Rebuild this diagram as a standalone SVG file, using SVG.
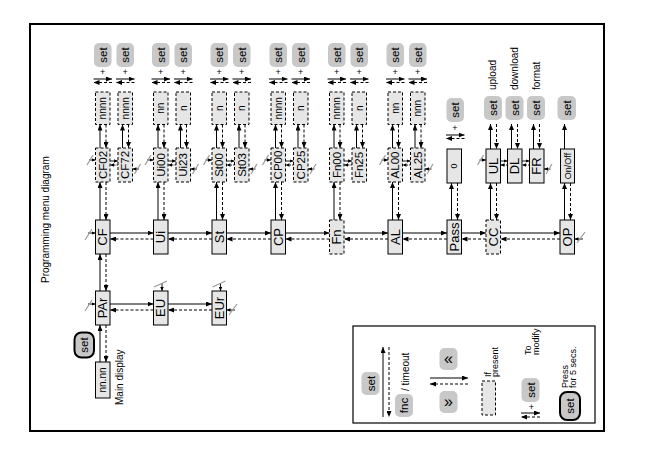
<svg xmlns="http://www.w3.org/2000/svg" width="658" height="464" viewBox="0 0 658 464">
<defs>
<marker id="ah" viewBox="0 0 6 5" refX="6" refY="2.5" markerWidth="6" markerHeight="5" markerUnits="userSpaceOnUse" orient="auto"><path d="M0,0L6,2.5L0,5z" fill="#000"/></marker>
<marker id="as" viewBox="0 0 4 3.5" refX="4" refY="1.75" markerWidth="4" markerHeight="3.5" markerUnits="userSpaceOnUse" orient="auto"><path d="M0,0L4,1.75L0,3.5z" fill="#000"/></marker>
</defs>
<style>
.tx{font-family:"Liberation Sans",Arial,sans-serif;text-anchor:middle;dominant-baseline:central;fill:#000}
.st{text-anchor:start}
.f13{font-size:13px}.f11{font-size:11.5px}.f10{font-size:10px}.f9{font-size:9px}
.b{fill:#e6e6e6;stroke:#000;stroke-width:1}
.bd{fill:#e6e6e6;stroke:#000;stroke-width:1;stroke-dasharray:3 2}
.btn{fill:#c8c8c8}
.btk{fill:#c8c8c8;stroke:#000;stroke-width:2}
.s{fill:none;stroke:#000;stroke-width:1;marker-end:url(#ah)}
.d{fill:none;stroke:#000;stroke-width:1;stroke-dasharray:3 2;marker-end:url(#ah)}
.ss{fill:none;stroke:#000;stroke-width:0.9;marker-end:url(#as)}
.ds{fill:none;stroke:#000;stroke-width:0.9;stroke-dasharray:1.5 1;marker-end:url(#as)}
.g{fill:none;stroke:#9a9a9a;stroke-width:1.2}
</style>
<rect x="30" y="24" width="574" height="407" fill="#fff" stroke="#000" stroke-width="2"/>
<text class="tx st f10" transform="translate(45,283) rotate(-90)">Programming menu diagram</text>

<!-- main chain -->
<g id="CF"><rect class="b" x="95.5" y="220" width="14.5" height="34"/><text class="tx f13" transform="translate(102.75,237) rotate(-90)">CF</text></g>
<g id="Ui"><rect class="b" x="153.5" y="220" width="14.5" height="34"/><text class="tx f13" transform="translate(160.75,237) rotate(-90)">Ui</text></g>
<g id="St"><rect class="b" x="212" y="220" width="14.5" height="34"/><text class="tx f13" transform="translate(219.25,237) rotate(-90)">St</text></g>
<g id="CP"><rect class="b" x="271" y="220" width="14.5" height="34"/><text class="tx f13" transform="translate(278.25,237) rotate(-90)">CP</text></g>
<g id="Fn"><rect class="bd" x="329.5" y="220" width="14.5" height="34"/><text class="tx f13" transform="translate(336.75,237) rotate(-90)">Fn</text></g>
<g id="AL"><rect class="b" x="388" y="220" width="14.5" height="34"/><text class="tx f13" transform="translate(395.25,237) rotate(-90)">AL</text></g>
<g id="Pass"><rect class="b" x="447" y="220" width="14.5" height="34"/><text class="tx f13" transform="translate(454.25,237) rotate(-90)">Pass</text></g>
<g id="CC"><rect class="bd" x="486" y="220" width="14.5" height="34"/><text class="tx f13" transform="translate(493.25,237) rotate(-90)">CC</text></g>
<g id="OP"><rect class="b" x="560" y="220" width="14.5" height="34"/><text class="tx f13" transform="translate(567.25,237) rotate(-90)">OP</text></g>

<g id="PAr"><rect class="b" x="95.5" y="291" width="14.5" height="34"/><text class="tx f13" transform="translate(102.75,308) rotate(-90)">PAr</text></g>
<g id="EU"><rect class="b" x="153.5" y="291" width="14.5" height="34"/><text class="tx f13" transform="translate(160.75,308) rotate(-90)">EU</text></g>
<g id="EUr"><rect class="b" x="212" y="291" width="14.5" height="34"/><text class="tx f13" transform="translate(219.25,308) rotate(-90)">EUr</text></g>
<g id="main-display"><rect class="b" x="95.5" y="362" width="14.5" height="36"/><text class="tx f10" transform="translate(102.75,380) rotate(-90)">nn.nn</text><text class="tx st f10" transform="translate(119,405) rotate(-90)">Main display</text></g>
<g id="set-main"><rect class="btk" x="74.5" y="332.5" width="19.5" height="25" rx="7"/><text class="tx f11" transform="translate(84.25,345) rotate(-90)">set</text></g>

<!-- parameter columns -->
<g id="CF02"><rect class="bd" x="95.5" y="148" width="14.5" height="34"/><text class="tx f11" transform="translate(102.75,165) rotate(-90)">CF02</text></g>
<g id="CF02-val"><rect class="bd" x="95.5" y="92" width="14.5" height="32.5"/><text class="tx f10" transform="translate(102.75,108.25) rotate(-90)">nnnn</text></g>
<g id="CF02-set"><rect class="btn" x="94" y="43" width="17.5" height="24" rx="5"/><text class="tx f11" transform="translate(102.75,55) rotate(-90)">set</text><text class="tx f9" x="102.75" y="72">+</text></g>
<g id="CF72"><rect class="bd" x="118" y="148" width="14.5" height="34"/><text class="tx f11" transform="translate(125.25,165) rotate(-90)">CF72</text></g>
<g id="CF72-val"><rect class="bd" x="118" y="92" width="14.5" height="32.5"/><text class="tx f10" transform="translate(125.25,108.25) rotate(-90)">nnnn</text></g>
<g id="CF72-set"><rect class="btn" x="116.5" y="43" width="17.5" height="24" rx="5"/><text class="tx f11" transform="translate(125.25,55) rotate(-90)">set</text><text class="tx f9" x="125.25" y="72">+</text></g>

<g id="Ui00"><rect class="bd" x="153.5" y="148" width="14.5" height="34"/><text class="tx f11" transform="translate(160.75,165) rotate(-90)">Ui00</text></g>
<g id="Ui00-val"><rect class="bd" x="153.5" y="92" width="14.5" height="32.5"/><text class="tx f10" transform="translate(160.75,108.25) rotate(-90)">nn</text></g>
<g id="Ui00-set"><rect class="btn" x="152" y="43" width="17.5" height="24" rx="5"/><text class="tx f11" transform="translate(160.75,55) rotate(-90)">set</text><text class="tx f9" x="160.75" y="72">+</text></g>
<g id="Ui23"><rect class="bd" x="176" y="148" width="14.5" height="34"/><text class="tx f11" transform="translate(183.25,165) rotate(-90)">Ui23</text></g>
<g id="Ui23-val"><rect class="bd" x="176" y="92" width="14.5" height="32.5"/><text class="tx f10" transform="translate(183.25,108.25) rotate(-90)">n</text></g>
<g id="Ui23-set"><rect class="btn" x="174.5" y="43" width="17.5" height="24" rx="5"/><text class="tx f11" transform="translate(183.25,55) rotate(-90)">set</text><text class="tx f9" x="183.25" y="72">+</text></g>

<g id="St00"><rect class="bd" x="212" y="148" width="14.5" height="34"/><text class="tx f11" transform="translate(219.25,165) rotate(-90)">St00</text></g>
<g id="St00-val"><rect class="bd" x="212" y="92" width="14.5" height="32.5"/><text class="tx f10" transform="translate(219.25,108.25) rotate(-90)">n</text></g>
<g id="St00-set"><rect class="btn" x="210.5" y="43" width="17.5" height="24" rx="5"/><text class="tx f11" transform="translate(219.25,55) rotate(-90)">set</text><text class="tx f9" x="219.25" y="72">+</text></g>
<g id="St03"><rect class="bd" x="234.5" y="148" width="14.5" height="34"/><text class="tx f11" transform="translate(241.75,165) rotate(-90)">St03</text></g>
<g id="St03-val"><rect class="bd" x="234.5" y="92" width="14.5" height="32.5"/><text class="tx f10" transform="translate(241.75,108.25) rotate(-90)">n</text></g>
<g id="St03-set"><rect class="btn" x="233" y="43" width="17.5" height="24" rx="5"/><text class="tx f11" transform="translate(241.75,55) rotate(-90)">set</text><text class="tx f9" x="241.75" y="72">+</text></g>

<g id="CP00"><rect class="bd" x="271" y="148" width="14.5" height="34"/><text class="tx f11" transform="translate(278.25,165) rotate(-90)">CP00</text></g>
<g id="CP00-val"><rect class="bd" x="271" y="92" width="14.5" height="32.5"/><text class="tx f10" transform="translate(278.25,108.25) rotate(-90)">nnnn</text></g>
<g id="CP00-set"><rect class="btn" x="269.5" y="43" width="17.5" height="24" rx="5"/><text class="tx f11" transform="translate(278.25,55) rotate(-90)">set</text><text class="tx f9" x="278.25" y="72">+</text></g>
<g id="CP25"><rect class="bd" x="293.5" y="148" width="14.5" height="34"/><text class="tx f11" transform="translate(300.75,165) rotate(-90)">CP25</text></g>
<g id="CP25-val"><rect class="bd" x="293.5" y="92" width="14.5" height="32.5"/><text class="tx f10" transform="translate(300.75,108.25) rotate(-90)">n</text></g>
<g id="CP25-set"><rect class="btn" x="292" y="43" width="17.5" height="24" rx="5"/><text class="tx f11" transform="translate(300.75,55) rotate(-90)">set</text><text class="tx f9" x="300.75" y="72">+</text></g>

<g id="Fn00"><rect class="bd" x="329.5" y="148" width="14.5" height="34"/><text class="tx f11" transform="translate(336.75,165) rotate(-90)">Fn00</text></g>
<g id="Fn00-val"><rect class="bd" x="329.5" y="92" width="14.5" height="32.5"/><text class="tx f10" transform="translate(336.75,108.25) rotate(-90)">nnnn</text></g>
<g id="Fn00-set"><rect class="btn" x="328" y="43" width="17.5" height="24" rx="5"/><text class="tx f11" transform="translate(336.75,55) rotate(-90)">set</text><text class="tx f9" x="336.75" y="72">+</text></g>
<g id="Fn25"><rect class="bd" x="352" y="148" width="14.5" height="34"/><text class="tx f11" transform="translate(359.25,165) rotate(-90)">Fn25</text></g>
<g id="Fn25-val"><rect class="bd" x="352" y="92" width="14.5" height="32.5"/><text class="tx f10" transform="translate(359.25,108.25) rotate(-90)">n</text></g>
<g id="Fn25-set"><rect class="btn" x="350.5" y="43" width="17.5" height="24" rx="5"/><text class="tx f11" transform="translate(359.25,55) rotate(-90)">set</text><text class="tx f9" x="359.25" y="72">+</text></g>

<g id="AL00"><rect class="bd" x="388" y="148" width="14.5" height="34"/><text class="tx f11" transform="translate(395.25,165) rotate(-90)">AL00</text></g>
<g id="AL00-val"><rect class="bd" x="388" y="92" width="14.5" height="32.5"/><text class="tx f10" transform="translate(395.25,108.25) rotate(-90)">nn</text></g>
<g id="AL00-set"><rect class="btn" x="386.5" y="43" width="17.5" height="24" rx="5"/><text class="tx f11" transform="translate(395.25,55) rotate(-90)">set</text><text class="tx f9" x="395.25" y="72">+</text></g>
<g id="AL25"><rect class="bd" x="410.5" y="148" width="14.5" height="34"/><text class="tx f11" transform="translate(417.75,165) rotate(-90)">AL25</text></g>
<g id="AL25-val"><rect class="bd" x="410.5" y="92" width="14.5" height="32.5"/><text class="tx f10" transform="translate(417.75,108.25) rotate(-90)">nnn</text></g>
<g id="AL25-set"><rect class="btn" x="409" y="43" width="17.5" height="24" rx="5"/><text class="tx f11" transform="translate(417.75,55) rotate(-90)">set</text><text class="tx f9" x="417.75" y="72">+</text></g>

<!-- Pass column -->
<g id="Pass-val"><rect class="b" x="447" y="149" width="14.5" height="34"/><text class="tx f9" transform="translate(454.25,166) rotate(-90)">0</text></g>
<g id="Pass-set"><rect class="btn" x="446.5" y="98" width="17.5" height="24" rx="5"/><text class="tx f11" transform="translate(455.25,110) rotate(-90)">set</text><text class="tx f9" x="455" y="128">+</text></g>

<!-- CC column -->
<g id="UL"><rect class="b" x="486" y="149" width="14.5" height="34"/><text class="tx f13" transform="translate(493.25,166) rotate(-90)">UL</text></g>
<g id="DL"><rect class="b" x="507.5" y="149" width="14.5" height="34"/><text class="tx f13" transform="translate(514.75,166) rotate(-90)">DL</text></g>
<g id="FR"><rect class="b" x="529.5" y="149" width="14.5" height="34"/><text class="tx f13" transform="translate(536.75,166) rotate(-90)">FR</text></g>
<g id="UL-set"><rect class="btn" x="484" y="96" width="18" height="24" rx="5"/><text class="tx f11" transform="translate(493,108) rotate(-90)">set</text><text class="tx st f10" transform="translate(492.5,90) rotate(-90)">upload</text></g>
<g id="DL-set"><rect class="btn" x="505.5" y="96" width="18" height="24" rx="5"/><text class="tx f11" transform="translate(514.5,108) rotate(-90)">set</text><text class="tx st f10" transform="translate(514.5,90) rotate(-90)">download</text></g>
<g id="FR-set"><rect class="btn" x="527" y="96" width="18" height="24" rx="5"/><text class="tx f11" transform="translate(536,108) rotate(-90)">set</text><text class="tx st f10" transform="translate(536,90) rotate(-90)">format</text></g>

<!-- OP column -->
<g id="OnOff"><rect class="b" x="560.5" y="149" width="14" height="34"/><text class="tx f9" transform="translate(567.5,166) rotate(-90)">On/Off</text></g>
<g id="OP-set"><rect class="btn" x="557.5" y="96" width="18.5" height="24" rx="5"/><text class="tx f11" transform="translate(566.75,108) rotate(-90)">set</text></g>

<!-- connectors -->
<g id="connectors">
<path class="s" d="M110,233H153.5"/><path class="d" d="M153.5,239H110"/>
<path class="s" d="M168,233H212"/><path class="d" d="M212,239H168"/>
<path class="s" d="M226.5,233H271"/><path class="d" d="M271,239H226.5"/>
<path class="s" d="M285.5,233H329.5"/><path class="d" d="M329.5,239H285.5"/>
<path class="s" d="M344,233H388"/><path class="d" d="M388,239H344"/>
<path class="s" d="M402.5,233H447"/><path class="d" d="M447,239H402.5"/>
<path class="s" d="M461.5,233H486"/><path class="d" d="M486,239H461.5"/>
<path class="s" d="M500.5,233H560"/><path class="d" d="M560,239H500.5"/>
<path class="s" d="M110,304H153.5"/><path class="d" d="M153.5,310H110"/>
<path class="s" d="M168,304H212"/><path class="d" d="M212,310H168"/>
<path class="s" d="M100,291V254"/><path class="d" d="M106,254V291"/>
<path class="s" d="M100,362V325"/><path class="d" d="M106,325V362"/>

<path class="s" d="M100,220V182"/><path class="d" d="M106,182V220"/>
<path class="s" d="M158,220V182"/><path class="d" d="M164,182V220"/>
<path class="s" d="M216.5,220V182"/><path class="d" d="M222.5,182V220"/>
<path class="s" d="M275.5,220V182"/><path class="d" d="M281.5,182V220"/>
<path class="s" d="M334,220V182"/><path class="d" d="M340,182V220"/>
<path class="s" d="M392.5,220V182"/><path class="d" d="M398.5,182V220"/>
<path class="s" d="M451.5,220V183"/><path class="d" d="M457.5,183V220"/>
<path class="s" d="M490.5,220V183"/><path class="d" d="M496.5,183V220"/>
<path class="s" d="M564.5,220V183"/><path class="d" d="M570.5,183V220"/>

<path class="s" d="M100,148V124.5"/><path class="d" d="M106,124.5V148"/>
<path class="s" d="M122.5,148V124.5"/><path class="d" d="M128.5,124.5V148"/>
<path class="s" d="M158,148V124.5"/><path class="d" d="M164,124.5V148"/>
<path class="s" d="M180.5,148V124.5"/><path class="d" d="M186.5,124.5V148"/>
<path class="s" d="M216.5,148V124.5"/><path class="d" d="M222.5,124.5V148"/>
<path class="s" d="M239,148V124.5"/><path class="d" d="M245,124.5V148"/>
<path class="s" d="M275.5,148V124.5"/><path class="d" d="M281.5,124.5V148"/>
<path class="s" d="M298,148V124.5"/><path class="d" d="M304,124.5V148"/>
<path class="s" d="M334,148V124.5"/><path class="d" d="M340,124.5V148"/>
<path class="s" d="M356.5,148V124.5"/><path class="d" d="M362.5,124.5V148"/>
<path class="s" d="M392.5,148V124.5"/><path class="d" d="M398.5,124.5V148"/>
<path class="s" d="M415,148V124.5"/><path class="d" d="M421,124.5V148"/>
<path class="s" d="M490.5,149V124"/><path class="d" d="M496.5,124V149"/>
<path class="s" d="M511.5,149V124"/><path class="d" d="M517.5,124V149"/>
<path class="s" d="M533.5,149V124"/><path class="d" d="M539.5,124V149"/>
<path class="s" d="M564.5,149V124"/>

<path class="s" d="M93.5,79H112"/><path class="d" d="M112,82.5H93.5"/>
<path class="s" d="M116,79H134.5"/><path class="d" d="M134.5,82.5H116"/>
<path class="s" d="M151.5,79H170"/><path class="d" d="M170,82.5H151.5"/>
<path class="s" d="M174,79H192.5"/><path class="d" d="M192.5,82.5H174"/>
<path class="s" d="M210,79H228.5"/><path class="d" d="M228.5,82.5H210"/>
<path class="s" d="M232.5,79H251"/><path class="d" d="M251,82.5H232.5"/>
<path class="s" d="M269,79H287.5"/><path class="d" d="M287.5,82.5H269"/>
<path class="s" d="M291.5,79H310"/><path class="d" d="M310,82.5H291.5"/>
<path class="s" d="M327.5,79H346"/><path class="d" d="M346,82.5H327.5"/>
<path class="s" d="M350,79H368.5"/><path class="d" d="M368.5,82.5H350"/>
<path class="s" d="M386,79H404.5"/><path class="d" d="M404.5,82.5H386"/>
<path class="s" d="M408.5,79H427"/><path class="d" d="M427,82.5H408.5"/>
<path class="s" d="M446,135H464.5"/><path class="d" d="M464.5,138.5H446"/>

<!-- between-parameter arrows -->
<path class="ss" d="M110,161H118"/><path class="ds" d="M118,165H110"/>
<path class="ss" d="M168,161H176"/><path class="ds" d="M176,165H168"/>
<path class="ss" d="M226.5,161H234.5"/><path class="ds" d="M234.5,165H226.5"/>
<path class="ss" d="M285.5,161H293.5"/><path class="ds" d="M293.5,165H285.5"/>
<path class="ss" d="M344,161H352"/><path class="ds" d="M352,165H344"/>
<path class="ss" d="M402.5,161H410.5"/><path class="ds" d="M410.5,165H402.5"/>
<path class="ss" d="M500.5,161H507.5"/><path class="ds" d="M507.5,165H500.5"/>
<path class="ss" d="M522,161H529.5"/><path class="ds" d="M529.5,165H522"/>

<!-- wrap-around marks -->
<path class="ss" d="M89,160H95.5"/><path class="g" d="M87,165L93,155"/>
<path class="ss" d="M147,160H153.5"/><path class="g" d="M145,165L151,155"/>
<path class="ss" d="M205.5,160H212"/><path class="g" d="M203.5,165L209.5,155"/>
<path class="ss" d="M264.5,160H271"/><path class="g" d="M262.5,165L268.5,155"/>
<path class="ss" d="M381.5,160H388"/><path class="g" d="M379.5,165L385.5,155"/>
<path class="ss" d="M479.5,160H486"/><path class="g" d="M477.5,165L483.5,155"/>
<path class="ss" d="M139,169H132.5"/><path class="g" d="M134.5,174L140.5,164"/>
<path class="ss" d="M197,169H190.5"/><path class="g" d="M192.5,174L198.5,164"/>
<path class="ss" d="M255.5,169H249"/><path class="g" d="M251,174L257,164"/>
<path class="ss" d="M314.5,169H308"/><path class="g" d="M310,174L316,164"/>
<path class="ss" d="M431.5,169H425"/><path class="g" d="M427,174L433,164"/>
<path class="ss" d="M550.5,169H544"/><path class="g" d="M546,174L552,164"/>
<path class="ss" d="M88,233H95.5"/><path class="g" d="M85,240L92,229"/>
<path class="ss" d="M88,304H95.5"/><path class="g" d="M85,311L92,300"/>
<path class="ss" d="M162,283V291"/><path class="g" d="M154,287L167,281"/>
<path class="ss" d="M220.5,283V291"/><path class="g" d="M212.5,287L225.5,281"/>
<path class="ss" d="M235,310H226.5"/><path class="g" d="M229,315L237,304"/>
<path class="ss" d="M583,239H574.5"/><path class="g" d="M577,243L585,232"/>
</g>

<!-- legend -->
<g id="legend">
<rect x="353" y="326" width="242" height="97" fill="none" stroke="#000" stroke-width="1.2"/>
<g id="lg-set"><rect class="btn" x="361.5" y="372" width="18" height="23" rx="5"/><text class="tx f11" transform="translate(370.5,383.5) rotate(-90)">set</text></g>
<path class="s" d="M383,417V347"/><path class="d" d="M389,347V417"/>
<g id="lg-fnc"><rect class="btn" x="395" y="394" width="18" height="23" rx="5"/><text class="tx f11" transform="translate(404,405.5) rotate(-90)">fnc</text><text class="tx st f10" transform="translate(405,391) rotate(-90)">/ timeout</text></g>
<g id="lg-up"><rect class="btn" x="439.5" y="348" width="18" height="22" rx="5"/><text class="tx" style="font-size:16px" x="448.5" y="358.5">«</text></g>
<g id="lg-down"><rect class="btn" x="439.5" y="391" width="18" height="22" rx="5"/><text class="tx" style="font-size:16px" x="448.5" y="401.5">»</text></g>
<path class="s" d="M430,378H468"/><path class="d" d="M468,384H430"/>
<g id="lg-if"><rect class="bd" x="482" y="381" width="13.5" height="34"/><text class="tx st f9" transform="translate(487.5,377) rotate(-90)">If</text><text class="tx st f9" transform="translate(495,377) rotate(-90)">present</text></g>
<g id="lg-modify"><rect class="btn" x="521.5" y="378" width="18" height="24" rx="5"/><text class="tx f11" transform="translate(530.5,390) rotate(-90)">set</text><text class="tx f9" x="531.5" y="407">+</text><text class="tx st f9" transform="translate(527.5,355) rotate(-90)">To</text><text class="tx st f9" transform="translate(536,355) rotate(-90)">modify</text></g>
<path class="s" d="M521,413H540"/><path class="d" d="M540,417H521"/>
<g id="lg-press"><rect class="btk" x="560" y="392" width="20" height="28" rx="7"/><text class="tx f11" transform="translate(570,406) rotate(-90)">set</text><text class="tx st f9" transform="translate(565,388) rotate(-90)">Press</text><text class="tx st f9" transform="translate(573,388) rotate(-90)">for 5 secs.</text></g>
</g>
</svg>
